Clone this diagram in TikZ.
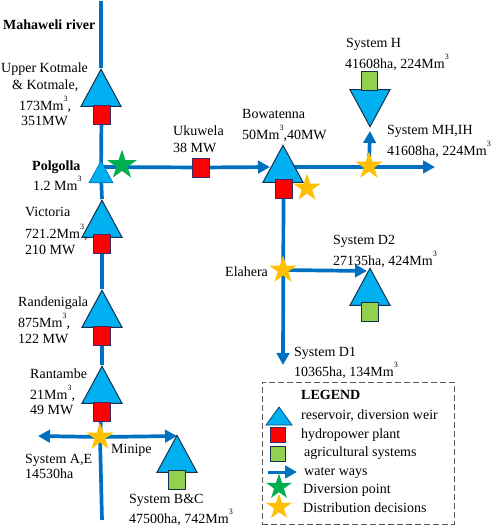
\documentclass[tikz,border=0pt]{standalone}
\usepackage{fontspec}
\setmainfont{Liberation Serif}
\usetikzlibrary{arrows.meta,shapes.geometric,backgrounds}
\definecolor{water}{HTML}{0070C0}
\definecolor{resv}{HTML}{00B0F0}
\definecolor{edge}{HTML}{14304F}
\definecolor{plantedge}{HTML}{3A2A66}
\definecolor{agri}{HTML}{92D050}
\definecolor{amber}{HTML}{FFC000}
\definecolor{divg}{HTML}{00B050}
\newcommand{\cubed}{\raisebox{9pt}{\fontsize{8}{8}\selectfont 3}}
\tikzset{
  lbl/.style={anchor=base west,inner sep=0pt,font=\fontsize{14}{16}\selectfont},
  blbl/.style={lbl,font=\fontsize{14}{16}\selectfont\bfseries},
  resbig/.style={isosceles triangle,isosceles triangle stretches,shape border rotate=90,
    minimum width=40pt,minimum height=37pt,inner sep=0pt,draw=edge,line width=1pt,fill=resv,anchor=apex},
  resdown/.style={resbig,shape border rotate=270},
  ressmall/.style={resbig,minimum width=24pt,minimum height=22pt,draw=water,line width=.6pt},
  reslegend/.style={resbig,minimum width=26pt,minimum height=18pt,line width=.8pt,draw=water!70!black},
  plant/.style={rectangle,minimum width=17pt,minimum height=19pt,inner sep=0pt,draw=plantedge,line width=1pt,fill=red},
  agbox/.style={rectangle,minimum width=16.5pt,minimum height=19pt,inner sep=0pt,draw=edge,line width=1pt,fill=agri},
  decide/.style={star,star points=5,star point ratio=2.618,inner sep=0pt,minimum size=29pt,fill=amber},
  divert/.style={star,star points=5,star point ratio=2.618,inner sep=0pt,minimum size=31pt,fill=divg},
  way/.style={draw=water,line width=3.7pt},
  wayto/.style={way,-{Triangle[length=12pt,width=12.5pt]}},
  legendbox/.style={draw=black!65,line width=.9pt,dash pattern=on 6pt off 3pt}
}
\begin{document}
\begin{tikzpicture}[x=1pt,y=-1pt]
\useasboundingbox (0,0) rectangle (491,527);
% free ends
\coordinate (rivertop) at (101,1);
\coordinate (riverend) at (102,520);
\coordinate (aetip) at (38,436);
\coordinate (bctip) at (177,436);
\coordinate (polj) at (101,167);
\coordinate (bowin) at (270,167);
\coordinate (bowj) at (283,167);
\coordinate (mhtip) at (435,167);
\coordinate (htip) at (370,131);
\coordinate (d1tip) at (283,365);
\coordinate (d2tip) at (367,271);
\coordinate (lgfrom) at (268,472);
\coordinate (lgto) at (297,472);
% reservoirs
\node[resbig] (kotmale) at (101,68) {};
\node[ressmall] (polgolla) at (101,160) {};
\node[resbig] (victoria) at (102,199) {};
\node[resbig] (randenigala) at (102,289) {};
\node[resbig] (rantambe) at (102,365) {};
\node[resbig] (bc) at (177,434) {};
\node[resbig] (bowatenna) at (283,144) {};
\node[resbig] (d2) at (370,267) {};
\node[resdown] (h) at (370,128) {};
% plants
\node[plant] (pkotmale) at (101.5,114.5) {};
\node[plant] (pvictoria) at (102,243.5) {};
\node[plant] (prandenigala) at (102,335.5) {};
\node[plant] (prantambe) at (101.5,411.5) {};
\node[plant] (pukuwela) at (201,167.5) {};
\node[plant] (pbowatenna) at (283.5,189) {};
% agricultural
\node[agbox] (abc) at (177,479.5) {};
\node[agbox] (ad2) at (370,312) {};
\node[agbox] (ah) at (369.5,81) {};
% stars
\node[divert] (polstar) at (122,165) {};
\node[decide] (minipe) at (100,437) {};
\node[decide] (bowstar) at (307,188) {};
\node[decide] (elahera) at (283,270) {};
\node[decide] (mhstar) at (369,166) {};
% connectors
\begin{scope}[on background layer]
\draw[way] (rivertop) -- (kotmale.apex);
\draw[way] (pkotmale.center) -- (polgolla.center);
\draw[way] (polgolla.center) -- (victoria.apex);
\draw[way] (pvictoria.center) -- (randenigala.apex);
\draw[way] (prandenigala.center) -- (rantambe.apex);
\draw[way] (prantambe.center) -- (minipe.center) -- (riverend);
\draw[wayto] (minipe.center) -- (aetip);
\draw[wayto] (minipe.center) -- (bctip);
\draw[way] (polj) -- (pukuwela.center);
\draw[wayto] (pukuwela.center) -- (bowin);
\draw[wayto] (bowj) -- (mhtip);
\draw[wayto] (mhstar.center) -- (htip);
\draw[wayto] (pbowatenna.center) -- (d1tip);
\draw[wayto] (elahera.center) -- (d2tip);
\end{scope}
% labels
\node[blbl] (tmah) at (3,30) {Mahaweli river};
\node[lbl] (t1a) at (1,73) {Upper Kotmale};
\node[lbl] (t1b) at (12,89) {\& Kotmale,};
\node[lbl] (t1c) at (19,110) {173Mm\cubed,};
\node[lbl] (t1d) at (21,125) {351MW};
\node[blbl] (t2a) at (32,170) {Polgolla};
\node[lbl] (t2b) at (33,190) {1.2 Mm\cubed};
\node[lbl] (t3a) at (25,216) {Victoria};
\node[lbl] (t3b) at (25,238) {721.2Mm\cubed,};
\node[lbl] (t3c) at (25,254) {210 MW};
\node[lbl] (t4a) at (173,135) {Ukuwela};
\node[lbl] (t4b) at (173,152) {38 MW};
\node[lbl] (t5a) at (242,118) {Bowatenna};
\node[lbl] (t5b) at (242,139) {50Mm\cubed,40MW};
\node[lbl] (t6a) at (346,48) {System H};
\node[lbl] (t6b) at (345,68) {41608ha, 224Mm\cubed};
\node[lbl] (t7a) at (387,134) {System MH,IH};
\node[lbl] (t7b) at (387,155) {41608ha, 224Mm\cubed};
\node[lbl] (t8a) at (333,244) {System D2};
\node[lbl] (t8b) at (333,265) {27135ha, 424Mm\cubed};
\node[lbl] (t9) at (225,276) {Elahera};
\node[lbl] (t10a) at (294,356) {System D1};
\node[lbl] (t10b) at (294,376) {10365ha, 134Mm\cubed};
\node[lbl] (t11a) at (18,306) {Randenigala};
\node[lbl] (t11b) at (18,327) {875Mm\cubed,};
\node[lbl] (t11c) at (18,343) {122 MW};
\node[lbl] (t12a) at (30,378) {Rantambe};
\node[lbl] (t12b) at (30,399) {21Mm\cubed,};
\node[lbl] (t12c) at (30,414) {49 MW};
\node[lbl] (t13) at (111,453) {Minipe};
\node[lbl] (t14a) at (25,463) {System A,E};
\node[lbl] (t14b) at (25,478) {14530ha};
\node[lbl] (t15a) at (129,503) {System B\&C};
\node[lbl] (t15b) at (129,523) {47500ha, 742Mm\cubed};
% legend
\node[legendbox,rectangle,minimum width=192pt,minimum height=142pt,inner sep=0pt,anchor=north west] (legend) at (262,382) {};
\node[blbl] (lg0) at (301,399) {LEGEND};
\node[reslegend] (lg1) at (279,406) {};
\node[lbl] (lt1) at (301,419) {reservoir, diversion weir};
\node[plant,minimum width=15pt,minimum height=15pt] (lg2) at (277.5,434.5) {};
\node[lbl] (lt2) at (301,438) {hydropower plant};
\node[agbox,minimum width=15pt,minimum height=15pt] (lg3) at (277.5,453.5) {};
\node[lbl] (lt3) at (304,456) {agricultural systems};
\draw[wayto,line width=3pt] (lgfrom) -- (lgto);
\node[lbl] (lt4) at (304,475) {water ways};
\node[divert,minimum size=27pt] (lg5) at (279,487) {};
\node[lbl] (lt5) at (303,493) {Diversion point};
\node[decide,minimum size=27pt] (lg6) at (279,507) {};
\node[lbl] (lt6) at (303,512) {Distribution decisions};
\end{tikzpicture}
\end{document}
